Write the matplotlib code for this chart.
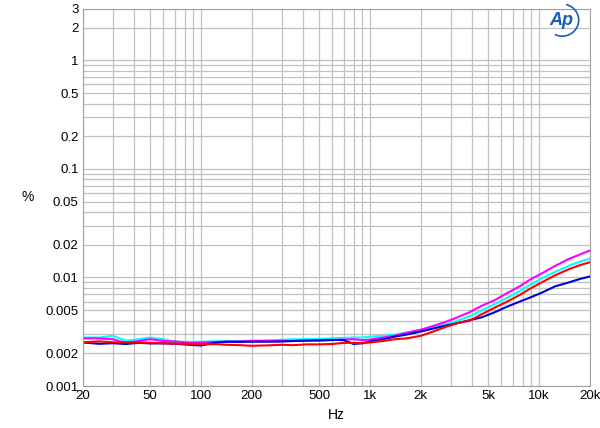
import numpy as np
import matplotlib.pyplot as plt
from matplotlib.ticker import FixedLocator, FixedFormatter, NullFormatter
from matplotlib.patches import Arc

plt.rcParams['font.family'] = ['Liberation Sans', 'DejaVu Sans']

# data
freq = [20, 25, 30, 36, 43, 50, 60, 71, 85, 100, 120, 142, 170, 200, 250, 300,
        350, 420, 500, 600, 700, 800, 900, 1000, 1200, 1400, 1650, 2000, 2400,
        2800, 3300, 3900, 4600, 5500, 6500, 7700, 9000, 10500, 12500, 15000,
        17500, 20000]

blue = [0.00252, 0.00245, 0.00248, 0.00244, 0.0025, 0.00247, 0.00247, 0.00245,
        0.0024, 0.00236, 0.0025, 0.00256, 0.00255, 0.00256, 0.00256, 0.00257,
        0.0026, 0.00262, 0.00264, 0.00266, 0.00265, 0.00244, 0.00248, 0.00258,
        0.0027, 0.00285, 0.00298, 0.00318, 0.0034, 0.0036, 0.0038, 0.00405,
        0.0043, 0.0048, 0.0054, 0.006, 0.0066, 0.0073, 0.0083, 0.009, 0.0097,
        0.0102]

magenta = [0.00275, 0.00275, 0.0027, 0.0025, 0.0026, 0.0027, 0.0026, 0.00258,
           0.0025, 0.00252, 0.00255, 0.00256, 0.00258, 0.0026, 0.0026, 0.00262,
           0.0026, 0.00262, 0.00262, 0.00265, 0.00268, 0.0027, 0.00265, 0.00268,
           0.0028, 0.0029, 0.0031, 0.0033, 0.0036, 0.0039, 0.0043, 0.0048,
           0.0055, 0.0062, 0.0072, 0.0083, 0.0097, 0.011, 0.0128, 0.0148,
           0.0163, 0.0177]

cyan = [0.0028, 0.0028, 0.0029, 0.00262, 0.0027, 0.0028, 0.0027, 0.00255,
        0.00255, 0.00256, 0.00258, 0.0026, 0.0026, 0.00262, 0.00264, 0.00266,
        0.0027, 0.0027, 0.00272, 0.00275, 0.00278, 0.0028, 0.0028, 0.00285,
        0.0029, 0.00298, 0.0031, 0.0033, 0.0035, 0.0037, 0.004, 0.0044,
        0.005, 0.0057, 0.0065, 0.0075, 0.0087, 0.0099, 0.0113, 0.0128,
        0.014, 0.0149]

red = [0.00253, 0.00258, 0.00253, 0.00253, 0.00252, 0.0025, 0.00248, 0.00246,
       0.00245, 0.00244, 0.00243, 0.0024, 0.00238, 0.00235, 0.00237, 0.0024,
       0.00238, 0.00242, 0.00242, 0.00244, 0.0025, 0.0025, 0.00248, 0.00252,
       0.0026, 0.0027, 0.00275, 0.0029, 0.0032, 0.0035, 0.0038, 0.004,
       0.0046, 0.0053, 0.006, 0.0069, 0.008, 0.0091, 0.0105, 0.0119,
       0.013, 0.0138]

xticks = [20, 50, 100, 200, 500, 1000, 2000, 5000, 10000, 20000]
xlabels = ['20', '50', '100', '200', '500', '1k', '2k', '5k', '10k', '20k']
yticks = [0.001, 0.002, 0.005, 0.01, 0.02, 0.05, 0.1, 0.2, 0.5, 1, 2, 3]
ylabels = ['0.001', '0.002', '0.005', '0.01', '0.02', '0.05', '0.1', '0.2',
           '0.5', '1', '2', '3']

fig = plt.figure(figsize=(6, 4.28), dpi=100)
ax = fig.add_axes([0.138, 0.098, 0.845, 0.882])
ax.set_xscale('log')
ax.set_yscale('log')
ax.set_xlim(20, 20000)
ax.set_ylim(0.001, 3)

# grid lines at every 1..9 of each decade
xgrid = [m * 10**d for d in range(1, 5) for m in range(1, 10) if 20 <= m * 10**d <= 20000]
ygrid = [m * 10.0**d for d in range(-3, 1) for m in range(1, 10) if m * 10.0**d <= 3]
for g in xgrid:
    ax.axvline(g, color='#c0c0c0', lw=0.9, zorder=0)
for g in ygrid:
    ax.axhline(g, color='#c0c0c0', lw=0.9, zorder=0)

ax.plot(freq, cyan, color='#00ffff', lw=1.5)
ax.plot(freq, magenta, color='#ff00ff', lw=1.5)
ax.plot(freq, blue, color='#0000d8', lw=1.5)
ax.plot(freq, red, color='#ff0000', lw=1.5)

ax.xaxis.set_major_locator(FixedLocator(xticks))
ax.xaxis.set_major_formatter(FixedFormatter(xlabels))
ax.xaxis.set_minor_formatter(NullFormatter())
ax.yaxis.set_major_locator(FixedLocator(yticks))
ax.yaxis.set_major_formatter(FixedFormatter(ylabels))
ax.yaxis.set_minor_formatter(NullFormatter())
ax.tick_params(which='both', length=0, labelsize=9.5, pad=3)
for s in ax.spines.values():
    s.set_color('#a0a0a0')

ax.set_xlabel('Hz', fontsize=10)
fig.text(28 / 600, 1 - 197 / 428, '%', fontsize=10, ha='center', va='center')

# AP logo
fig.text(0.935, 0.953, 'Ap', color='#1a5fb4', fontsize=13, style='italic',
         fontweight='bold', ha='center', va='center')
fig.patches.append(Arc((0.937, 0.953), 0.055, 0.075, theta1=-110, theta2=80,
                       transform=fig.transFigure, color='#1a5fb4', lw=1.2))

plt.savefig('out.png', dpi=100)
